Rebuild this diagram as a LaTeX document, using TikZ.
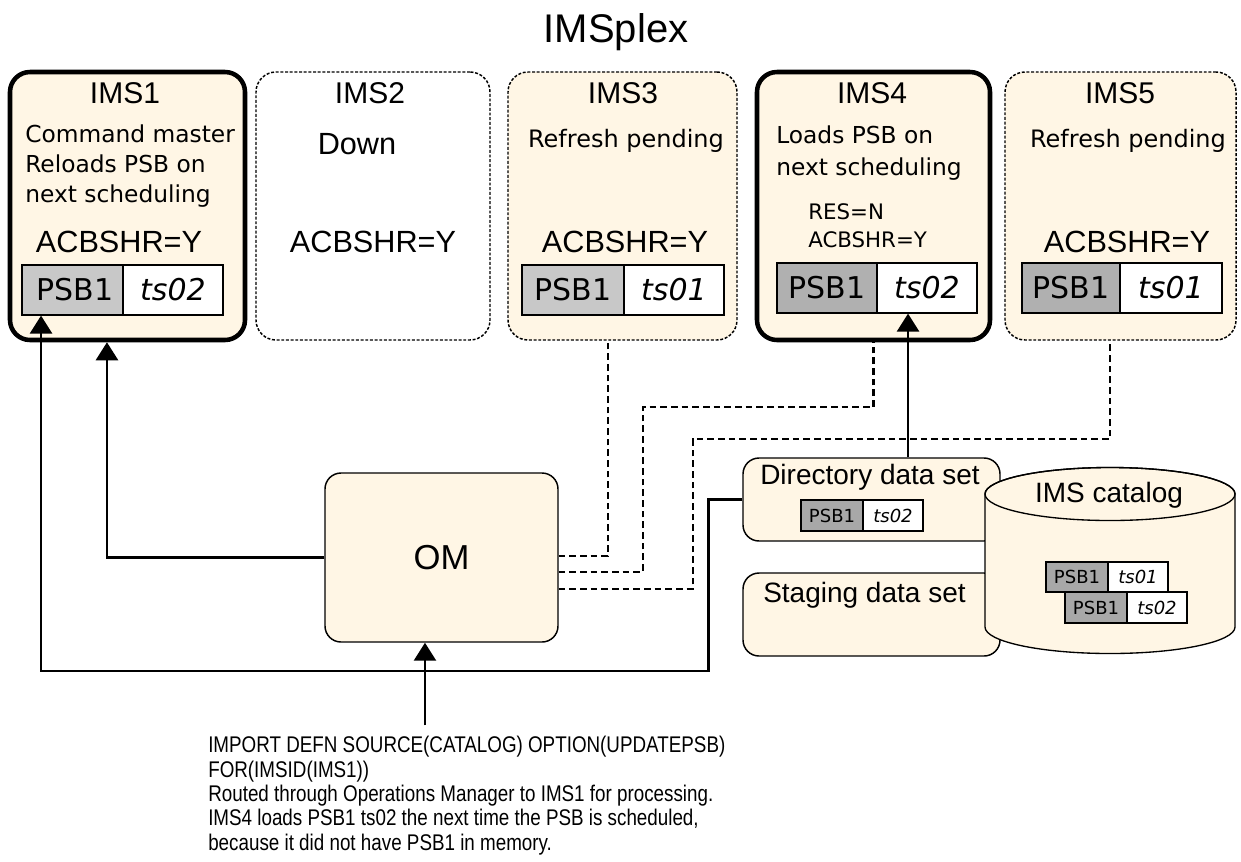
\documentclass[tikz,border=0pt]{standalone}
\usepackage{fontspec}
\setmainfont{Liberation Sans}
\newfontfamily\dv{DejaVu Sans}
\newfontfamily\nar{Liberation Sans}[FakeStretch=0.83]
\usetikzlibrary{fit,arrows.meta}
\definecolor{cream}{RGB}{255,246,229}
\definecolor{psbl}{RGB}{200,200,200}
\definecolor{psbd}{RGB}{176,176,176}
\definecolor{psbs}{RGB}{168,168,168}
\begin{document}
\begin{tikzpicture}[x=0.75pt,y=-0.75pt,
  box/.style={inner sep=0pt, rounded corners=15pt},
  imsthick/.style={box, draw, line width=3.4pt, fill=cream},
  imsdot/.style={box, draw, line width=1.1pt, dash pattern=on 2.2pt off 1.3pt, fill=cream},
  thinbox/.style={inner sep=0pt, rounded corners=12pt, draw, line width=1.1pt, fill=cream},
  cell/.style={inner sep=0pt, draw, line width=0.9pt},
  scell/.style={inner sep=0pt, draw, line width=0.8pt},
  ctext/.style={inner sep=0pt, font=\dv\fontsize{22.5pt}{27pt}\selectfont},
  sctext/.style={inner sep=0pt, font=\dv\fontsize{13.5pt}{16pt}\selectfont},
  txt/.style={inner sep=0pt},
  title/.style={txt, anchor=base, font=\fontsize{22.5pt}{27pt}\selectfont},
  big/.style={txt, anchor=base, font=\fontsize{23pt}{28pt}\selectfont},
  stat/.style={txt, anchor=base west, font=\dv\fontsize{17.5pt}{21pt}\selectfont},
  statc/.style={txt, anchor=base, font=\dv\fontsize{18pt}{21pt}\selectfont},
  small/.style={txt, anchor=base west, font=\dv\fontsize{16pt}{19pt}\selectfont},
  mid/.style={txt, font=\fontsize{21pt}{25pt}\selectfont},
  arr/.style={line width=2pt, -{Triangle[width=16.5pt,length=13.5pt]}},
  dsh/.style={line width=1.7pt, dash pattern=on 5pt off 3pt}
]
\useasboundingbox (0,0) rectangle (1241,861);

\node[txt, anchor=base, font=\fontsize{30pt}{36pt}\selectfont] (plex) at (616,42) {IMSplex};

% IMS boxes
\node[imsthick, fit={(10,72)(245,340)}] (ims1) {};
\node[imsdot, fill=white, fit={(256,72)(490,340)}] (ims2) {};
\node[imsdot, fit={(508,72)(737,340)}] (ims3) {};
\node[imsthick, fit={(757,72)(990,340)}] (ims4) {};
\node[imsdot, fit={(1005,72)(1236,340)}] (ims5) {};

% IMS1
\node[title] (n1) at (125,103) {IMS1};
\node[stat] (s1a) at (25,142) {Command master};
\node[stat] (s1b) at (25,172) {Reloads PSB on};
\node[stat] (s1c) at (25,202) {next scheduling};
\node[big] (a1) at (119,252) {ACBSHR=Y};
\node[cell, fill=psbl, fit={(22,265)(123,315)}] (p1) {};
\node[cell, fill=white, fit={(123,265)(223,315)}] (t1) {};
\node[ctext] (p1x) at ([xshift=2pt]p1.center) {PSB1};
\node[ctext] (t1x) at (t1.center) {\itshape ts02};

% IMS2
\node[title] (n2) at (370,103) {IMS2};
\node[big] (d2) at (357,154) {Down};
\node[big] (a2) at (373,252) {ACBSHR=Y};

% IMS3
\node[title] (n3) at (623,103) {IMS3};
\node[statc] (s3) at (626,147) {Refresh pending};
\node[big] (a3) at (625,252) {ACBSHR=Y};
\node[cell, fill=psbl, fit={(522,265)(624,315)}] (p3) {};
\node[cell, fill=white, fit={(624,265)(724,315)}] (t3) {};
\node[ctext] (p3x) at (p3.center) {PSB1};
\node[ctext] (t3x) at (t3.center) {\itshape ts01};

% IMS4
\node[title] (n4) at (872,103) {IMS4};
\node[stat] (s4a) at (776,143) {Loads PSB on};
\node[stat] (s4b) at (776,175) {next scheduling};
\node[small] (r4) at (808,219) {RES=N};
\node[small] (a4) at (808,247) {ACBSHR=Y};
\node[cell, fill=psbd, fit={(777,263)(877,313)}] (p4) {};
\node[cell, fill=white, fit={(877,263)(977,313)}] (t4) {};
\node[ctext] (p4x) at (p4.center) {PSB1};
\node[ctext] (t4x) at (t4.center) {\itshape ts02};

% IMS5
\node[title] (n5) at (1120,103) {IMS5};
\node[statc] (s5) at (1128,147) {Refresh pending};
\node[big] (a5) at (1127,252) {ACBSHR=Y};
\node[cell, fill=psbd, fit={(1022,263)(1120,313)}] (p5) {};
\node[cell, fill=white, fit={(1120,263)(1222,313)}] (t5) {};
\node[ctext] (p5x) at (p5.center) {PSB1};
\node[ctext] (t5x) at (t5.center) {\itshape ts01};

% OM
\node[thinbox, fit={(325,473)(558,642)}] (om) {};
\node[txt, font=\fontsize{26pt}{30pt}\selectfont] (omt) at (om.center) {OM};

% Directory / staging
\node[thinbox, fit={(743,458)(1000,541)}] (dir) {};
\node[mid, anchor=base west] (dirt) at (760,484) {Directory data set};
\node[scell, fill=psbs, fit={(801,500)(863,531)}] (dp) {};
\node[scell, fill=white, fit={(863,500)(923,531)}] (dt) {};
\node[sctext] (dpx) at (dp.center) {PSB1};
\node[sctext] (dtx) at (dt.center) {\itshape ts02};
\node[thinbox, fit={(743,573)(1000,656)}] (stg) {};
\node[mid, anchor=base west] (stgt) at (763,602) {Staging data set};

% catalog cylinder
\filldraw[fill=cream, line width=1pt] (985,494) -- (985,627)
  arc[start angle=180, end angle=0, x radius=125, y radius=26.5] -- (1235,494)
  arc[start angle=0, end angle=-180, x radius=125, y radius=26.5] -- cycle;
\draw[line width=1pt] (1110,494) ellipse [x radius=125, y radius=26.5];
\node[mid, anchor=base] (cat) at (1109,502) {IMS catalog};
\node[scell, fill=psbs, fit={(1046,562)(1108,592)}] (cp1) {};
\node[scell, fill=white, fit={(1108,562)(1168,592)}] (ct1) {};
\node[scell, fill=psbs, fit={(1065,592)(1127,623)}] (cp2) {};
\node[scell, fill=white, fit={(1127,592)(1187,623)}] (ct2) {};
\node[sctext] (cp1x) at (cp1.center) {PSB1};
\node[sctext] (ct1x) at (ct1.center) {\itshape ts01};
\node[sctext] (cp2x) at (cp2.center) {PSB1};
\node[sctext] (ct2x) at (ct2.center) {\itshape ts02};

% command text
\node[txt, anchor=north west, align=left, font=\nar\fontsize{17pt}{18.3pt}\selectfont] (cmd) at (208,736)
 {IMPORT DEFN SOURCE(CATALOG) OPTION(UPDATEPSB)\\
  FOR(IMSID(IMS1))\\
  Routed through Operations Manager to IMS1 for processing.\\
  IMS4 loads PSB1 ts02 the next time the PSB is scheduled,\\
  because it did not have PSB1 in memory.};

% helper coordinates
\coordinate (low) at (0,671);
\coordinate (h1) at (0,407);
\coordinate (h2) at (0,439);
\coordinate (cs) at ([yshift=8pt]cmd.north);
\coordinate (i1) at ([xshift=-15.4pt]ims1.south);
\coordinate (k1) at ([xshift=-23.6pt]p1.south);
\coordinate (c3) at ([xshift=-12.4pt]om.south);
\coordinate (d4) at ([xshift=27.4pt]dir.north);
\coordinate (i3) at ([xshift=-10.9pt]ims3.south);
\coordinate (i5) at ([xshift=-7.9pt]ims5.south);

% solid connectors
\draw[arr] (om.west) -| (i1);
\draw[arr] (dir.west) -- ++(-34,0) |- (k1 |- low) -- (k1);
\draw[arr] (c3 |- cs) -- (c3);
\draw[arr] (d4) -- (d4 |- t4.south);

% dashed connectors
\draw[dsh] ([yshift=1.1pt]om.east) -| (i3);
\draw[dsh] ([yshift=-10.9pt]om.east) -- ++(84,0) |- (h1 -| ims4.south) -- (ims4.south);
\draw[dsh] ([yshift=-23.6pt]om.east) -- ++(134,0) |- (h2 -| i5) -- (i5);
\end{tikzpicture}
\end{document}
